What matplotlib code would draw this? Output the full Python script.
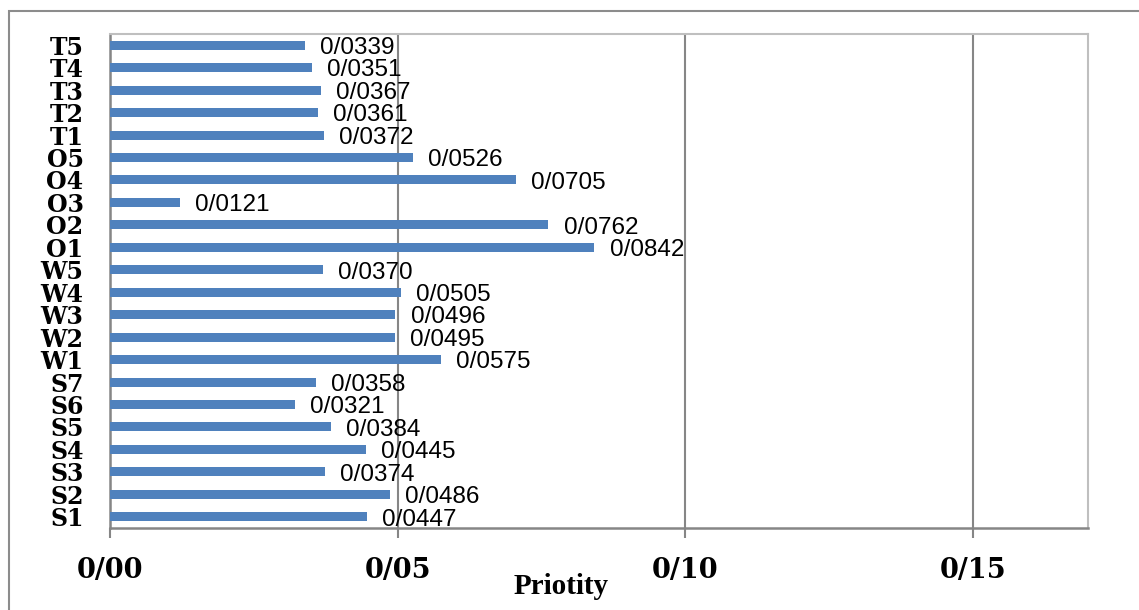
import matplotlib
matplotlib.use("Agg")
import matplotlib.pyplot as plt
from matplotlib.patches import Rectangle
from matplotlib.ticker import FuncFormatter

# Factor priorities (bottom to top)
categories = ["S1", "S2", "S3", "S4", "S5", "S6", "S7",
              "W1", "W2", "W3", "W4", "W5",
              "O1", "O2", "O3", "O4", "O5",
              "T1", "T2", "T3", "T4", "T5"]
priority = [0.0447, 0.0486, 0.0374, 0.0445, 0.0384, 0.0321, 0.0358,
            0.0575, 0.0495, 0.0496, 0.0505, 0.0370,
            0.0842, 0.0762, 0.0121, 0.0705, 0.0526,
            0.0372, 0.0361, 0.0367, 0.0351, 0.0339]
x_ticks = [0.00, 0.05, 0.10, 0.15]
x_label = "Priotity"

W, H = 1139, 610
fig = plt.figure(figsize=(W / 100, H / 100), dpi=100)

# Outer chart frame
fig.add_artist(Rectangle((9 / W, -0.05), 1.2, (H - 11) / H + 0.05,
                         transform=fig.transFigure, fill=False,
                         edgecolor="#8c8c8c", linewidth=1.5))

ax = fig.add_axes([110 / W, (H - 528) / H, (1088 - 110) / W, (528 - 34) / H])

ypos = list(range(len(categories)))
ax.barh(ypos, priority, height=0.4, color="#4F81BD", zorder=3)

def slash_fmt(v, decimals):
    return f"{v:.{decimals}f}".replace(".", "/")

for y, v in zip(ypos, priority):
    ax.annotate(slash_fmt(v, 4), xy=(v, y), xytext=(11, -2),
                textcoords="offset points", va="center", ha="left",
                fontsize=17.5, family="Liberation Sans", color="black",
                zorder=4)

ax.set_xlim(0, 0.17)
ax.set_ylim(-0.5, len(categories) - 0.5)
ax.set_xticks(x_ticks)
ax.xaxis.set_major_formatter(FuncFormatter(lambda v, p: slash_fmt(v, 2)))
ax.set_yticks(ypos)
ax.set_yticklabels(categories)

ax.grid(axis="x", color="#868686", linewidth=1.5, zorder=1)
ax.tick_params(axis="x", length=7, width=1.5, color="#868686", pad=14,
               labelsize=19.5)
ax.tick_params(axis="y", length=0, pad=19, labelsize=17)
for lab in ax.get_xticklabels() + ax.get_yticklabels():
    lab.set_family("DejaVu Serif")
    lab.set_fontweight("bold")

for side in ("left", "bottom"):
    ax.spines[side].set_color("#868686")
    ax.spines[side].set_linewidth(1.8)
for side in ("top", "right"):
    ax.spines[side].set_color("#bfbfbf")
    ax.spines[side].set_linewidth(1.5)

fig.text(561 / W, 1 - 586 / H, x_label, ha="center", va="center",
         fontsize=21, family="Liberation Serif", fontweight="bold")

fig.savefig("out.png", dpi=100)
